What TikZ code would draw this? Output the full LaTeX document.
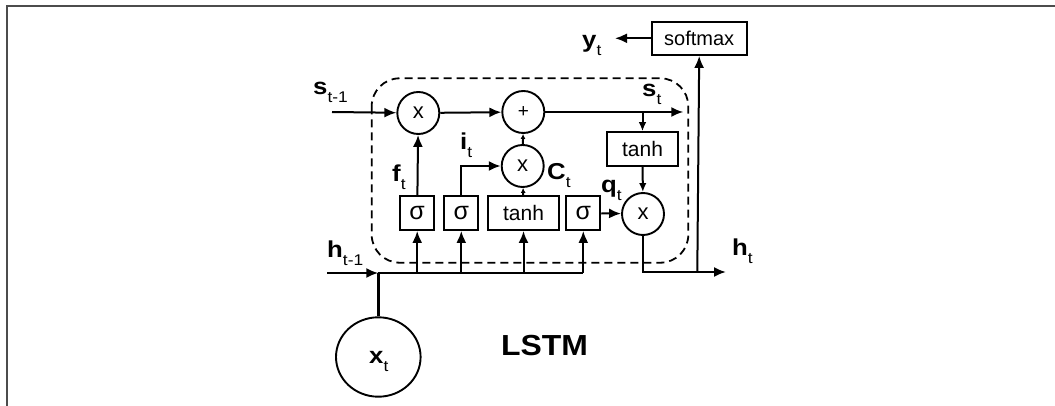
\documentclass[tikz,border=0pt]{standalone}
\usepackage{fontspec}
\setmainfont{Liberation Sans}
\usetikzlibrary{arrows.meta,shapes.geometric}
\newcommand{\lbl}[2]{\scalebox{1.12}[1]{{\fontsize{23}{23}\selectfont\bfseries #1}\raisebox{-8pt}{\fontsize{15.5}{15.5}\selectfont #2}}}
\begin{document}
\begin{tikzpicture}[x=1pt,y=-1pt,
  ln/.style={line width=2pt},
  big/.style={-{Latex[length=12pt,width=10pt]}},
  med/.style={-{Latex[length=9pt,width=7.5pt]}},
  sm/.style={-{Latex[length=5pt,width=5pt]}},
  op/.style={circle,draw,line width=1.9pt,minimum size=42pt,inner sep=0pt,font=\fontsize{22}{22}\selectfont},
  gate/.style={rectangle,draw,line width=1.9pt,minimum width=34pt,minimum height=34pt,inner sep=0pt,font=\fontsize{25}{25}\selectfont},
  tbox/.style={gate,minimum width=71.6pt,font=\fontsize{21}{21}\selectfont},
  lab/.style={anchor=base west,inner sep=0pt}]
\useasboundingbox (0,0) rectangle (1055,406);
\draw[line width=2pt,color=black!70] (6.5,406) -- (6.5,6.5) -- (1055,6.5);
% dashed cell
\draw[line width=1.8pt,dash pattern=on 8pt off 5pt,rounded corners=28pt] (371.7,78.3) rectangle (688.3,262.7);
% operation nodes
\node[op] (fx) at (418.3,113) {x};
\node[op] (plus) at (523.3,112) {\fontsize{19}{19}\selectfont +};
\node[op] (ix) at (522.7,166) {x};
\node[op] (ox) at (643,214) {x};
\node[gate] (sf) at (417.2,213) {σ};
\node[gate] (si) at (461.3,213) {σ};
\node[tbox] (tc) at (523.5,213) {tanh};
\node[gate] (so) at (583.3,213) {σ};
\node[tbox] (ts) at (642.5,149.2) {tanh};
\node[rectangle,draw,line width=1.9pt,minimum width=95pt,minimum height=33.3pt,inner sep=0pt,font=\fontsize{20}{20}\selectfont] (soft) at (699.2,38.3) {softmax};
\node[ellipse,draw,line width=1.9pt,minimum width=84.6pt,minimum height=79.4pt,inner sep=0pt] (xt) at (378.3,357) {};
% coordinates
\coordinate (sin) at (332,112);
\coordinate (sout) at (683.3,112);
\coordinate (hin) at (327,273);
\coordinate (J) at (378.3,273);
\coordinate (busend) at (583.3,273);
\coordinate (hout) at (726,272);
\coordinate (hs) at (697.3,272);
\coordinate (yend) at (615,38.3);
% cell state line
\draw[ln,big] (sin) -- (fx);
\draw[ln,big] (fx) -- (plus);
\draw[ln,big] (plus) -- (sout);
\draw[ln,sm] (ix) -- (plus);
\draw[ln,sm] (tc) -- (ix);
\draw[ln,big] (sf) -- (fx);
\draw[ln,big] (si.north) |- (ix.west);
\draw[ln,big] (so) -- (ox);
\draw[ln,med] (ts.north |- sout) -- (ts.north);
\draw[ln,med] (ts) -- (ox);
\draw[ln,big] (ox.south) |- (hout);
\draw[ln,big] (hs) -- (soft.south);
\draw[ln,big] (soft.west) -- (yend);
% input bus
\draw[ln,big] (hin) -- (J);
\draw[line width=2.8pt] (J) -- (busend);
\draw[line width=2.8pt] (xt.north) -- (J);
\foreach \g in {sf,si,tc,so}{\draw[ln,big] (\g.south |- J) -- (\g.south);}
% labels
\node[lab] (ls) at (313,95) {\lbl{s}{t-1}};
\node[lab] (lh) at (327,258) {\lbl{h}{t-1}};
\node[lab] (lf) at (392,182) {\lbl{f}{t}};
\node[lab] (li) at (460,150) {\lbl{i}{t}};
\node[lab] (lc) at (547,180) {\lbl{C}{t}};
\node[lab] (lq) at (601,193) {\lbl{q}{t}};
\node[lab] (lst) at (642,97) {\lbl{s}{t}};
\node[lab] (ly) at (582,48) {\lbl{y}{t}};
\node[lab] (lht) at (732,255) {\lbl{h}{t}};
\node[lab] (lx) at (369,363) {\lbl{x}{t}};
\node[lab] (lstm) at (501,355) {\scalebox{1.1}[1]{\fontsize{29}{29}\selectfont\bfseries LSTM}};
\end{tikzpicture}
\end{document}
